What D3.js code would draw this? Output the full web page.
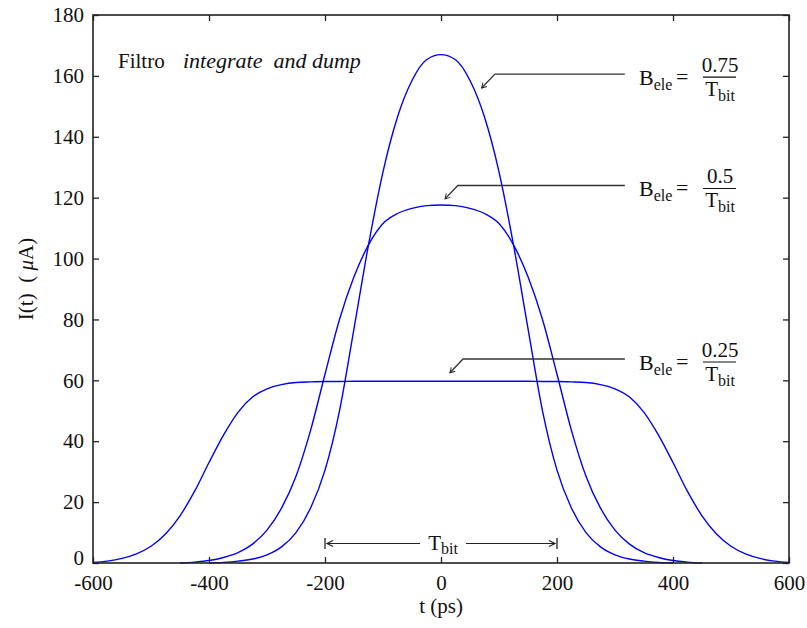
<!DOCTYPE html>
<html>
<head>
<meta charset="utf-8">
<script src="https://cdn.jsdelivr.net/npm/d3@7"></script>
<style>
  html, body { margin: 0; padding: 0; background: #fff; }
  svg { display: block; }
  svg text { font-family: "Liberation Serif", "DejaVu Serif", serif !important; fill: #111; }
</style>
</head>
<body>
<svg id="chart" width="807" height="628"></svg>
<script>
// Time axis samples (ps)
const timePs = [-600,-575,-550,-525,-500,-475,-450,-425,-400,-375,-350,-325,-300,-275,-250,-225,-200,-175,-150,-125,-100,-75,-50,-25,
  0,25,50,75,100,125,150,175,200,225,250,275,300,325,350,375,400,425,450,475,500,525,550,575,600];

// Photocurrent I(t) in µA for each electrical bandwidth (null = not drawn)
const currentB025 = [0.2,0.6,1.5,3,5.5,9.5,15.5,23.5,33,42,49.5,54.5,57.2,58.6,59.3,59.5,59.6,59.6,59.7,59.7,59.7,59.7,59.7,59.7,
  59.7,59.7,59.7,59.7,59.7,59.7,59.7,59.6,59.6,59.5,59.3,58.6,57.2,54.5,49.5,42,33,23.5,15.5,9.5,5.5,3,1.5,0.6,0.2];
const currentB05 = [null,null,null,null,null,null,0,0.3,0.8,1.8,3.4,6.2,10.8,18,28.5,43.5,62,80,94,104.5,111.5,114.8,116.5,117.4,
  117.6,117.4,116.5,114.8,111.5,104.5,94,80,62,43.5,28.5,18,10.8,6.2,3.4,1.8,0.8,0.3,0,null,null,null,null,null,null];
const currentB075 = [null,null,null,null,null,null,null,null,0,0.2,0.6,1.3,2.7,5.3,10,18,30.5,50,77,104.5,128.5,146.5,158.5,165.3,
  167,165.3,158.5,146.5,128.5,104.5,77,50,30.5,18,10,5.3,2.7,1.3,0.6,0.2,0,null,null,null,null,null,null,null,null];

const xTicks = [-600,-400,-200,0,200,400,600];
const yTicks = [0,20,40,60,80,100,120,140,160,180];

// Bandwidth annotations: numerator, arrow tip, elbow (in t, I units)
const bwLabels = ["0.75","0.5","0.25"];
const bwArrowTip = [[70,156],[7,119.6],[15.5,62.5]];
const bwArrowElbow = [[93,160.6],[29,124],[38,67]];
const bwLineEndT = 317;
const bitInterval = [-200,200];

const svg = d3.select("#chart");
const x = d3.scaleLinear().domain([-600,600]).range([93,789]);
const y = d3.scaleLinear().domain([0,180]).range([563,15]);

const series = [currentB025, currentB05, currentB075];
const line = d3.line()
  .defined(d => d[1] !== null)
  .x(d => x(d[0]))
  .y(d => y(d[1]))
  .curve(d3.curveMonotoneX);

svg.append("g").selectAll("path").data(series).join("path")
  .attr("d", vals => line(timePs.map((t,i) => [t, vals[i]])))
  .attr("fill","none")
  .attr("stroke","#0000ff")
  .attr("stroke-width",1.4);

// Axes: ticks point inward on all four sides
const axisColor = "#222";
const plainNum = d => String(d);
function styleAxis(g) {
  g.select(".domain").remove();
  g.selectAll(".tick line").attr("stroke", axisColor).attr("stroke-width", 1.3);
  g.selectAll("text").attr("font-size", 21);
}
svg.append("g").attr("transform","translate(0,563)")
  .call(d3.axisBottom(x).tickValues(xTicks).tickSize(-6).tickPadding(12).tickFormat(plainNum))
  .call(styleAxis);
svg.append("g").attr("transform","translate(0,15)")
  .call(d3.axisTop(x).tickValues(xTicks).tickSize(-6).tickFormat(""))
  .call(styleAxis);
svg.append("g").attr("transform","translate(93,0)")
  .call(d3.axisLeft(y).tickValues(yTicks).tickSize(-6).tickPadding(9).tickFormat(plainNum))
  .call(styleAxis)
  // the zero label sits a little higher, clear of the x labels
  .call(g => g.selectAll(".tick").filter(d => d === 0).select("text").attr("y", -5));
svg.append("g").attr("transform","translate(789,0)")
  .call(d3.axisRight(y).tickValues(yTicks).tickSize(-6).tickFormat(""))
  .call(styleAxis);

svg.append("rect")
  .attr("x", x(-600)).attr("y", y(180))
  .attr("width", x(600)-x(-600)).attr("height", y(0)-y(180))
  .attr("fill","none").attr("stroke",axisColor).attr("stroke-width",1.6);

// Axis titles
svg.append("text").attr("x", 441).attr("y", 613).attr("text-anchor","middle")
  .attr("font-size",21).text("t (ps)");
const yl = svg.append("text").attr("transform","translate(33,279) rotate(-90)")
  .attr("text-anchor","middle").attr("font-size",21)
  .attr("xml:space","preserve");
yl.append("tspan").text("I(t)  ( ");
yl.append("tspan").attr("font-style","italic").text("μ");
yl.append("tspan").text("A)");

// Heading
svg.append("text").attr("x",118).attr("y", 68).attr("font-size",21).text("Filtro");
svg.append("text").attr("x",183).attr("y",68).attr("font-size",22)
  .attr("font-style","italic").attr("xml:space","preserve")
  .text("integrate  and dump");

// Arrow marker
svg.append("defs").append("marker")
  .attr("id","tipArrow").attr("viewBox","-8 -5 10 10")
  .attr("refX",0).attr("refY",0).attr("markerWidth",8).attr("markerHeight",8)
  .attr("markerUnits","userSpaceOnUse").attr("orient","auto")
  .append("path").attr("d","M-6,-3.5 L0,0 L-6,3.5").attr("fill","none")
  .attr("stroke","#222").attr("stroke-width",1.2);

bwLabels.forEach((num, i) => {
  const tip = bwArrowTip[i], elbow = bwArrowElbow[i];
  const ly = y(elbow[1]);
  svg.append("path")
    .attr("d", `M${x(bwLineEndT)},${ly} L${x(elbow[0])},${ly} L${x(tip[0])},${y(tip[1])}`)
    .attr("fill","none").attr("stroke","#333").attr("stroke-width",1.3)
    .attr("marker-end","url(#tipArrow)");

  const barY = ly + 3;
  const bx = 639, cx = 720;
  const b = svg.append("text").attr("x", bx).attr("y", barY + 8).attr("font-size",22);
  b.append("tspan").text("B");
  b.append("tspan").attr("font-size",16).attr("dy",5).text("ele");
  svg.append("text").attr("x", 676).attr("y", barY + 7).attr("font-size",22).text("=");
  svg.append("text").attr("x", cx).attr("y", barY - 5).attr("text-anchor","middle")
    .attr("font-size",21).text(num);
  svg.append("line").attr("x1", cx-17).attr("x2", cx+16).attr("y1", barY).attr("y2", barY)
    .attr("stroke","#111").attr("stroke-width",1.2);
  const d = svg.append("text").attr("x", cx).attr("y", barY + 19).attr("text-anchor","middle")
    .attr("font-size",21);
  d.append("tspan").text("T");
  d.append("tspan").attr("font-size",16).attr("dy",5).text("bit");
});

// Bit period marker
const by = 543.5;
const x0 = x(bitInterval[0]), x1 = x(bitInterval[1]);
[x0, x1].forEach(xx => svg.append("line").attr("x1",xx).attr("x2",xx)
  .attr("y1",by-5.5).attr("y2",by+5.5).attr("stroke","#222").attr("stroke-width",1.3));
svg.append("line").attr("x1",x0+2).attr("x2",420).attr("y1",by).attr("y2",by)
  .attr("stroke","#222").attr("stroke-width",1.2);
svg.append("line").attr("x1",466).attr("x2",x1-2).attr("y1",by).attr("y2",by)
  .attr("stroke","#222").attr("stroke-width",1.2);
svg.append("path").attr("d",`M${x0+8},${by-3} L${x0+2},${by} L${x0+8},${by+3}`)
  .attr("fill","none").attr("stroke","#222").attr("stroke-width",1.2);
svg.append("path").attr("d",`M${x1-8},${by-3} L${x1-2},${by} L${x1-8},${by+3}`)
  .attr("fill","none").attr("stroke","#222").attr("stroke-width",1.2);
const tb = svg.append("text").attr("x", 443).attr("y", by + 6).attr("text-anchor","middle")
  .attr("font-size",21);
tb.append("tspan").text("T");
tb.append("tspan").attr("font-size",16).attr("dy",4).text("bit");
</script>
</body>
</html>
